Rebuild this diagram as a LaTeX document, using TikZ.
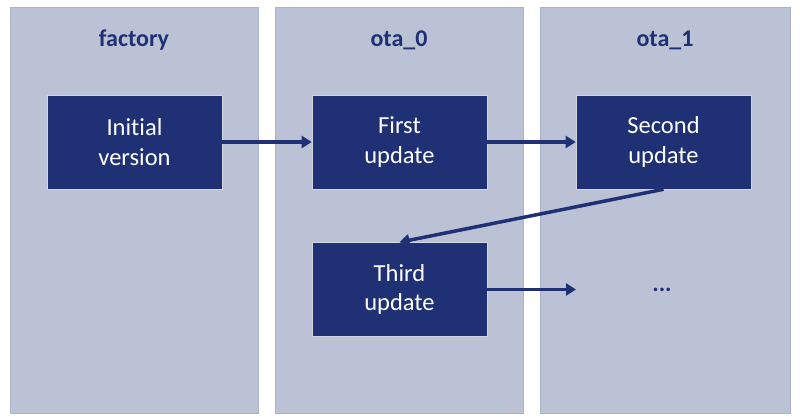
\documentclass[tikz,border=0pt]{standalone}
\usepackage{fontspec}
\setmainfont[Ligatures=NoCommon]{Carlito}
\usetikzlibrary{arrows.meta}
\definecolor{colfill}{HTML}{BCC2D5}
\definecolor{colline}{HTML}{A9B1CB}
\definecolor{navy}{HTML}{1F3174}
\tikzset{
  column/.style={fill=colfill,draw=colline,line width=0.8pt},
  vbox/.style={fill=navy,draw=white!80!navy,line width=0.6pt,minimum width=175pt,minimum height=94pt,inner sep=0pt,text=white,font=\fontsize{24.5}{29.5}\selectfont,align=center},
  coltitle/.style={text=navy,font=\fontsize{24}{29}\selectfont\bfseries,inner sep=0pt},
  flow/.style={draw=navy,line width=3.5pt,-{Triangle[length=10pt,width=12pt]},shorten >=0pt},
  dots/.style={text=navy,font=\fontsize{24}{29}\selectfont\bfseries,inner sep=0pt}
}
\begin{document}
\begin{tikzpicture}[x=1pt,y=-1pt]
\useasboundingbox (0,0) rectangle (800,419);
\fill[white] (0,0) rectangle (800,419);
\draw[column] (10,7) rectangle (258,413);
\draw[column] (275,7) rectangle (523,413);
\draw[column] (540,7) rectangle (790,413);
\node[coltitle] (t0) at (134,40) {factory};
\node[coltitle] (t1) at (399,40) {ota\_0};
\node[coltitle] (t2) at (665,40) {ota\_1};
\node[vbox] (init) at (134.5,142) {Initial\\version};
\node[vbox] (first) at (399.5,142) {First\\update};
\node[vbox] (second) at (663.5,142) {Second\\update};
\node[vbox] (third) at (399.5,289.5) {Third\\update};
\node[dots] (more) at (662,290) {...};
\draw[flow] (init.east) -- (first.west);
\draw[flow] (first.east) -- (second.west);
\draw[flow] (second.south) -- (third.north);
\draw[flow] (third.east) -- (576,289.5);
\end{tikzpicture}
\end{document}
